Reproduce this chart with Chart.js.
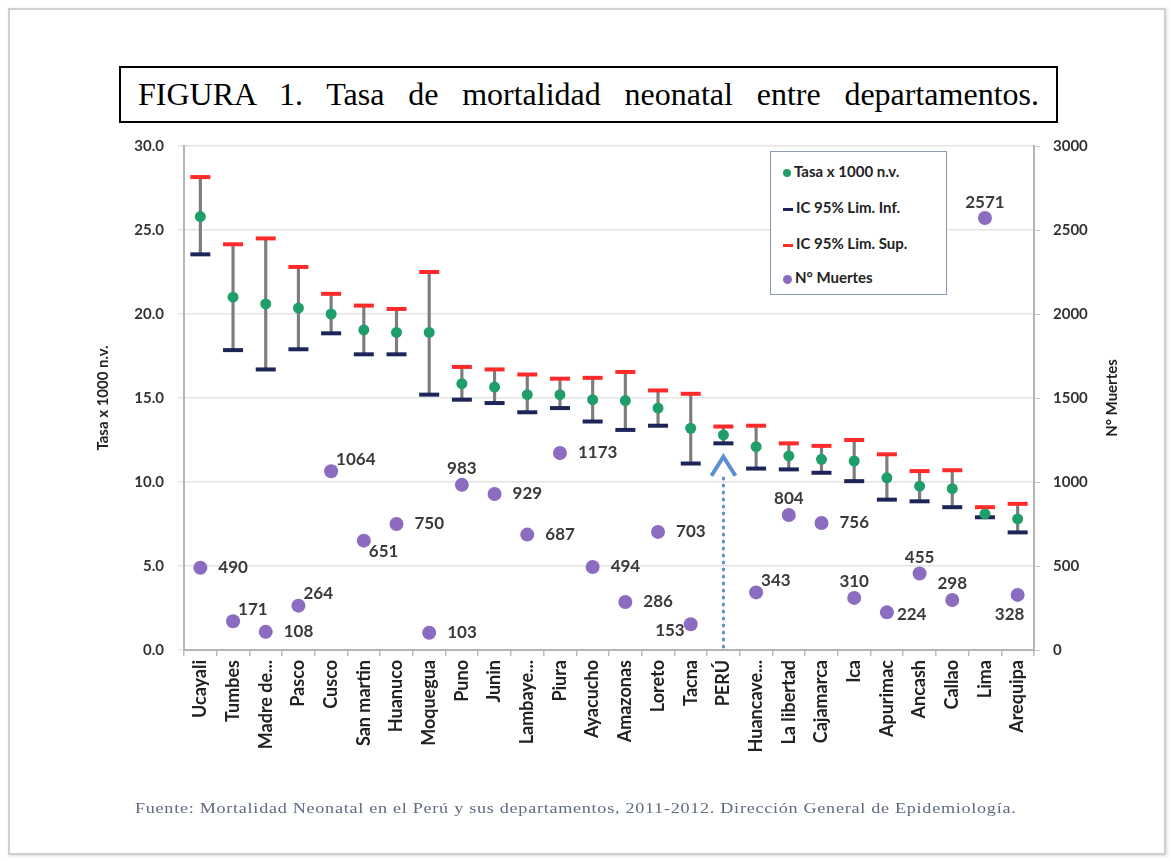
<!DOCTYPE html>
<html>
<head>
<meta charset="utf-8">
<script src="https://cdn.jsdelivr.net/npm/chart.js@4"></script>
<style>
  html, body { margin: 0; padding: 0; background: #fff; }
  #wrap { position: relative; width: 1171px; height: 861px; overflow: hidden; }
  #frame { position: absolute; left: 8px; top: 8px; width: 1154px; height: 843px;
           border: 2px solid #cfcfcf; box-shadow: 1px 1px 3px rgba(0,0,0,0.15); }
  #chart { position: absolute; left: 0; top: 0; }
  #titulo { position: absolute; left: 119px; top: 66px; width: 901px; height: 53px;
            border: 2px solid #000; background: #fff; padding: 0 17px;
            font-family: 'Liberation Serif', 'Times New Roman', serif; font-size: 32px;
            line-height: 53px; text-align: justify; text-align-last: justify; white-space: nowrap; }
  #leyenda { position: absolute; left: 770px; top: 151px; width: 175px; height: 142px;
             border: 1.5px solid #8c9bb0; background: #fff;
             font-family: Lato, sans-serif; font-weight: bold; font-size: 15px; color: #222; }
  #leyenda div { position: absolute; left: 12px; height: 20px; line-height: 20px; white-space: nowrap; }
  #leyenda span.m { display: inline-block; vertical-align: middle; margin-right: 3px; }
  #fuente { position: absolute; left: 135px; top: 800px; transform-origin: 0 0;
            font-family: 'Liberation Serif', serif; font-size: 15px; color: #5f6b80;
            letter-spacing: 0.6px; white-space: nowrap; }
</style>
</head>
<body>
<div id="wrap">
  <div id="frame"></div>
  <canvas id="chart" width="1171" height="861"></canvas>
  <div id="titulo">FIGURA 1. Tasa de mortalidad neonatal entre departamentos.</div>
  <div id="leyenda">
    <div style="top:9px"><span class="m" style="width:8px;height:8px;border-radius:50%;background:#1f9e6a"></span>Tasa x 1000 n.v.</div>
    <div style="top:45px"><span class="m" style="width:10px;height:3px;background:#1c2458"></span>IC 95% Lim. Inf.</div>
    <div style="top:81px"><span class="m" style="width:10px;height:3px;background:#ff2a2a"></span>IC 95% Lim. Sup.</div>
    <div style="top:115px"><span class="m" style="width:9px;height:9px;border-radius:50%;background:#8b6cc0"></span>N° Muertes</div>
  </div>
  <div id="fuente">Fuente: Mortalidad Neonatal en el Perú y sus departamentos, 2011-2012. Dirección General de Epidemiología.</div>
</div>
<script>
const departamentos = ['Ucayali', 'Tumbes', 'Madre de...', 'Pasco', 'Cusco', 'San martin', 'Huanuco',
  'Moquegua', 'Puno', 'Junin', 'Lambaye...', 'Piura', 'Ayacucho', 'Amazonas', 'Loreto', 'Tacna',
  'PERÚ', 'Huancave...', 'La libertad', 'Cajamarca', 'Ica', 'Apurimac', 'Ancash', 'Callao', 'Lima', 'Arequipa'];

const tasa = [25.8, 21.0, 20.6, 20.35, 20.0, 19.05, 18.9, 18.9, 15.85, 15.65, 15.2, 15.2, 14.9,
  14.85, 14.4, 13.2, 12.8, 12.1, 11.55, 11.35, 11.25, 10.25, 9.75, 9.6, 8.1, 7.8];

const limInf = [23.55, 17.85, 16.7, 17.9, 18.85, 17.6, 17.6, 15.2, 14.9, 14.7, 14.15, 14.4, 13.6,
  13.1, 13.35, 11.1, 12.3, 10.8, 10.75, 10.55, 10.05, 8.95, 8.85, 8.5, 7.9, 7.0];

const limSup = [28.15, 24.15, 24.5, 22.8, 21.2, 20.5, 20.3, 22.5, 16.85, 16.7, 16.4, 16.15, 16.2,
  16.55, 15.45, 15.25, 13.3, 13.35, 12.3, 12.15, 12.5, 11.65, 10.65, 10.7, 8.5, 8.7];

const muertes = [490, 171, 108, 264, 1064, 651, 750, 103, 983, 929, 687, 1173, 494,
  286, 703, 153, null, 343, 804, 756, 310, 224, 455, 298, 2571, 328];

// where each death-count label sits relative to its dot
const posEtiqueta = ['r', 'ur', 'r', 'ur', 'ur', 'dr', 'r', 'r', 'u', 'r', 'r', 'r', 'r',
  'r', 'r', 'l', null, 'ur', 'u', 'r', 'u', 'rc', 'u', 'u', 'u', 'd'];

const peruIndex = departamentos.indexOf('PERÚ');
const flechaTope = 11.5;

const offsets = {
  r: [18, 0, 'left'], rc: [10, 2, 'left'], ur: [5, -12, 'left'], dr: [5, 11, 'left'],
  u: [0, -16, 'center'], d: [-8, 20, 'center'], l: [-6, 6, 'right']
};

const etiquetasMuertes = {
  id: 'etiquetasMuertes',
  afterDatasetsDraw(chart) {
    const ctx = chart.ctx;
    const meta = chart.getDatasetMeta(4);
    ctx.save();
    ctx.font = 'bold 17px Lato';
    ctx.fillStyle = '#3a3a3a';
    ctx.textBaseline = 'middle';
    meta.data.forEach((pt, i) => {
      if (muertes[i] == null) return;
      const o = offsets[posEtiqueta[i]];
      ctx.textAlign = o[2];
      ctx.fillText(String(muertes[i]), pt.x + o[0], pt.y + o[1]);
    });
    ctx.restore();
  }
};

const flechaPeru = {
  id: 'flechaPeru',
  afterDatasetsDraw(chart) {
    const ctx = chart.ctx;
    const x = chart.scales.x.getPixelForValue(peruIndex);
    const yTop = chart.scales.y.getPixelForValue(flechaTope);
    const yBase = chart.scales.y.getPixelForValue(0);
    ctx.save();
    ctx.strokeStyle = '#5b8fd0';
    ctx.lineWidth = 3;
    ctx.lineCap = 'round';
    ctx.setLineDash([1, 6]);
    ctx.beginPath();
    ctx.moveTo(x, yBase - 3);
    ctx.lineTo(x, yTop + 20);
    ctx.stroke();
    ctx.setLineDash([]);
    ctx.lineWidth = 4;
    ctx.lineCap = 'butt';
    ctx.lineJoin = 'miter';
    ctx.beginPath();
    ctx.moveTo(x - 12, yTop + 19);
    ctx.lineTo(x, yTop);
    ctx.lineTo(x + 12, yTop + 19);
    ctx.stroke();
    ctx.restore();
  }
};

const tituloDerecho = {
  id: 'tituloDerecho',
  afterDraw(chart) {
    const ctx = chart.ctx;
    const a = chart.chartArea;
    ctx.save();
    ctx.translate(1112, (a.top + a.bottom) / 2);
    ctx.rotate(-Math.PI / 2);
    ctx.font = 'bold 15px Lato';
    ctx.fillStyle = '#222';
    ctx.textAlign = 'center';
    ctx.textBaseline = 'middle';
    ctx.fillText('N° Muertes', 0, 0);
    ctx.restore();
  }
};

// stretch the source line so it spans the same width as in the figure
const fuente = document.getElementById('fuente');
fuente.style.transform = 'scaleX(' + (882 / fuente.scrollWidth) + ')';

const ctx = document.getElementById('chart').getContext('2d');
new Chart(ctx, {
  type: 'bar',
  data: {
    labels: departamentos,
    datasets: [
      {
        label: 'IC',
        data: limInf.map((v, i) => [v, limSup[i]]),
        backgroundColor: '#7d7d7d',
        barThickness: 2.5,
        order: 10
      },
      {
        type: 'line', label: 'IC 95% Lim. Inf.', data: limInf, showLine: false,
        pointStyle: 'line', pointRadius: 10, pointBorderWidth: 4,
        pointBorderColor: '#1c2458', borderColor: '#1c2458', order: 3
      },
      {
        type: 'line', label: 'IC 95% Lim. Sup.', data: limSup, showLine: false,
        pointStyle: 'line', pointRadius: 10, pointBorderWidth: 4,
        pointBorderColor: '#ff2a2a', borderColor: '#ff2a2a', order: 2
      },
      {
        type: 'line', label: 'Tasa x 1000 n.v.', data: tasa, showLine: false,
        pointStyle: 'circle', pointRadius: 5.5, pointBorderWidth: 0,
        pointBackgroundColor: '#1f9e6a', borderColor: '#1f9e6a', order: 1
      },
      {
        type: 'line', label: 'N° Muertes', data: muertes, yAxisID: 'y1', showLine: false,
        pointStyle: 'circle', pointRadius: 7, pointBorderWidth: 0,
        pointBackgroundColor: '#8b6cc0', borderColor: '#8b6cc0', order: 0
      }
    ]
  },
  options: {
    responsive: false,
    animation: false,
    layout: { padding: { left: 90, right: 20, top: 146, bottom: 81 } },
    plugins: { legend: { display: false }, tooltip: { enabled: false } },
    scales: {
      x: {
        grid: { offset: true, drawOnChartArea: false, tickLength: 6, color: '#bdbdbd', lineWidth: 1.5 },
        border: { color: '#b5b5b5', width: 2 },
        ticks: {
          autoSkip: false, minRotation: 90, maxRotation: 90, padding: 4,
          color: '#222', font: { family: 'Lato', weight: 'bold', size: 18 }
        },
        afterFit: s => { s.height = 130; }
      },
      y: {
        position: 'left', min: 0, max: 30,
        grid: { color: '#e4e4e4', lineWidth: 1.5, tickLength: 6 },
        border: { color: '#b5b5b5', width: 2 },
        ticks: {
          stepSize: 5, padding: 14, color: '#333',
          font: { family: 'Lato', weight: 'bold', size: 15 },
          callback: v => v.toFixed(1)
        },
        title: {
          display: true, text: 'Tasa x 1000 n.v.', color: '#222',
          font: { family: 'Lato', weight: 'bold', size: 15 }
        },
        afterFit: s => { s.width = 94; }
      },
      y1: {
        position: 'right', min: 0, max: 3000,
        grid: { drawOnChartArea: false, tickLength: 6, color: '#c8c8c8' },
        border: { color: '#b5b5b5', width: 2 },
        ticks: {
          stepSize: 500, padding: 13, color: '#333',
          font: { family: 'Lato', weight: 'bold', size: 15 },
          callback: v => String(v)
        },
        afterFit: s => { s.width = 117; }
      }
    }
  },
  plugins: [etiquetasMuertes, flechaPeru, tituloDerecho]
});
</script>
</body>
</html>
